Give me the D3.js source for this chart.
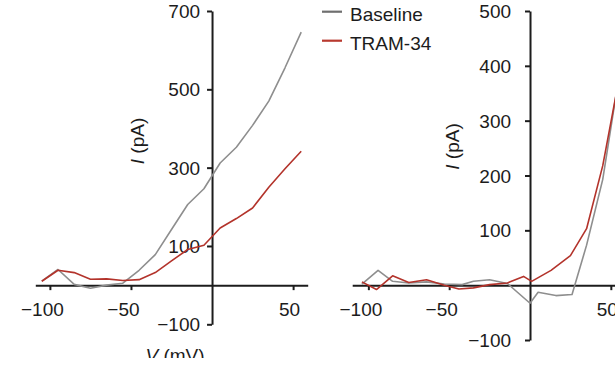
<!DOCTYPE html>
<html>
<head>
<meta charset="utf-8">
<script src="https://cdn.jsdelivr.net/npm/d3@7"></script>
<style>
  body { margin: 0; background: #fff; }
  svg { display: block; font-family: "Liberation Sans", Arial, sans-serif; }
</style>
</head>
<body>
<svg id="chart" width="615" height="366"></svg>
<script>
// left panel, 10 mV steps
const leftVolts = [-105, -95, -85, -75, -65, -55, -45, -35, -25, -15, -5, 5, 15, 25, 35, 45, 55];
const leftBaseline = [10, 40, 2, -8, 0, 5, 38, 78, 142, 206, 246, 312, 352, 408, 470, 555, 646];
const leftTram = [10, 38, 32, 15, 16, 12, 14, 32, 62, 91, 102, 146, 170, 197, 250, 297, 342];

// right panel (cut at the right edge)
const rightBaseVolts = [-104, -94, -85, -75, -64, -53, -42, -35, -25, -14, 0, 5, 16, 26, 35, 45, 55];
const rightBaseline = [2, 27, 7, 4, 6, 2, 1, 7, 10, 3, -33, -13, -19, -17, 73, 193, 380];
const rightTramVolts = [-104, -95, -85, -75, -64, -53, -44, -35, -25, -14, -4, 1, 13, 25, 35, 45, 55];
const rightTram = [6, -8, 17, 5, 10, 0, -7, -5, 1, 4, 16, 7, 27, 54, 103, 218, 375];

const leftYTicks = [700, 500, 300, 100, -100];
const rightYTicks = [500, 400, 300, 200, 100, -100];
const xTicks = [-100, -50, 50];
const seriesNames = ['Baseline', 'TRAM-34'];

const color = d3.scaleOrdinal().domain(seriesNames).range(['#8e8e8e', '#b3332b']);
const legendColor = d3.scaleOrdinal().domain(seriesNames).range(['#6f6f6f', '#b8392f']);
const ink = '#1c1c1c';
const fontSize = 19;

const svg = d3.select('#chart');

svg.append('defs').append('clipPath')
    .attr('id', 'cut')
  .append('rect')
    .attr('x', 0).attr('y', 0)
    .attr('width', 615).attr('height', 358);

function zip(xs, ys) {
  return xs.map((v, i) => [v, ys[i]]);
}

function panel(opts) {
  const x = d3.scaleLinear().domain(opts.xDomain).range(opts.xRange);
  const y = d3.scaleLinear().domain(opts.yDomain).range(opts.yRange);
  const g = svg.append('g');

  // x axis through I = 0
  const xAxis = g.append('g')
      .attr('transform', `translate(0,${y(0)})`)
      .call(d3.axisBottom(x).tickValues(xTicks).tickSize(5).tickSizeOuter(0));
  xAxis.selectAll('text')
      .attr('y', 31).attr('dy', null)
      .attr('dx', d => d < 0 ? -8 : -4);

  // y axis through V = 0
  const yAxis = g.append('g')
      .attr('transform', `translate(${x(0)},0)`)
      .call(d3.axisLeft(y).tickValues(opts.yTicks).tickSize(5).tickSizeOuter(0)
        .tickPadding(opts.yPad));
  yAxis.selectAll('text').attr('dy', '0.35em');

  g.selectAll('.domain, .tick line')
      .attr('stroke', ink).attr('stroke-width', 2);
  g.selectAll('.tick text')
      .attr('fill', ink)
      .style('font-size', fontSize + 'px')
      .style('font-family', '"Liberation Sans", Arial, sans-serif');

  const line = d3.line().x(d => x(d[0])).y(d => y(d[1]));

  opts.series.forEach((s, i) => {
    g.append('path')
        .datum(s)
        .attr('fill', 'none')
        .attr('stroke', color(seriesNames[i]))
        .attr('stroke-width', 1.6)
        .attr('stroke-linejoin', 'round')
        .attr('d', line);
  });

  const lab = g.append('text')
      .attr('transform', `translate(${opts.yLabelPos[0]},${opts.yLabelPos[1]}) rotate(-90)`)
      .attr('text-anchor', 'middle')
      .attr('fill', ink)
      .style('font-size', fontSize + 'px');
  lab.append('tspan').style('font-style', 'italic').text('I');
  lab.append('tspan').text(' (pA)');

  return { x, y, g };
}

const left = panel({
  xDomain: [-109, 59], xRange: [35.3, 307.7],
  yDomain: [-100, 700], yRange: [324.3, 11],
  yTicks: leftYTicks, yPad: 7,
  yLabelPos: [144, 141],
  series: [zip(leftVolts, leftBaseline), zip(leftVolts, leftTram)]
});

panel({
  xDomain: [-110, 60], xRange: [352.2, 627],
  yDomain: [-100, 500], yRange: [340, 11],
  yTicks: rightYTicks, yPad: 14,
  yLabelPos: [459, 146.5],
  series: [zip(rightBaseVolts, rightBaseline), zip(rightTramVolts, rightTram)]
});

// x label of the left panel, cropped at the bottom like the source
const xl = svg.append('text')
    .attr('clip-path', 'url(#cut)')
    .attr('x', 175).attr('y', 362)
    .attr('text-anchor', 'middle')
    .attr('fill', ink)
    .style('font-size', fontSize + 'px');
xl.append('tspan').style('font-style', 'italic').text('V');
xl.append('tspan').text(' (mV)');

// legend
const legend = svg.append('g').attr('transform', 'translate(322,0)');
const item = legend.selectAll('g')
    .data(seriesNames)
  .enter().append('g')
    .attr('transform', (d, i) => `translate(0,${11.7 + i * 29})`);
item.append('line')
    .attr('x1', 0).attr('x2', 20)
    .attr('stroke', d => legendColor(d))
    .attr('stroke-width', 2.2);
item.append('text')
    .attr('x', 28).attr('y', 9.5)
    .attr('fill', ink)
    .style('font-size', fontSize + 'px')
    .text(d => d);
</script>
</body>
</html>
